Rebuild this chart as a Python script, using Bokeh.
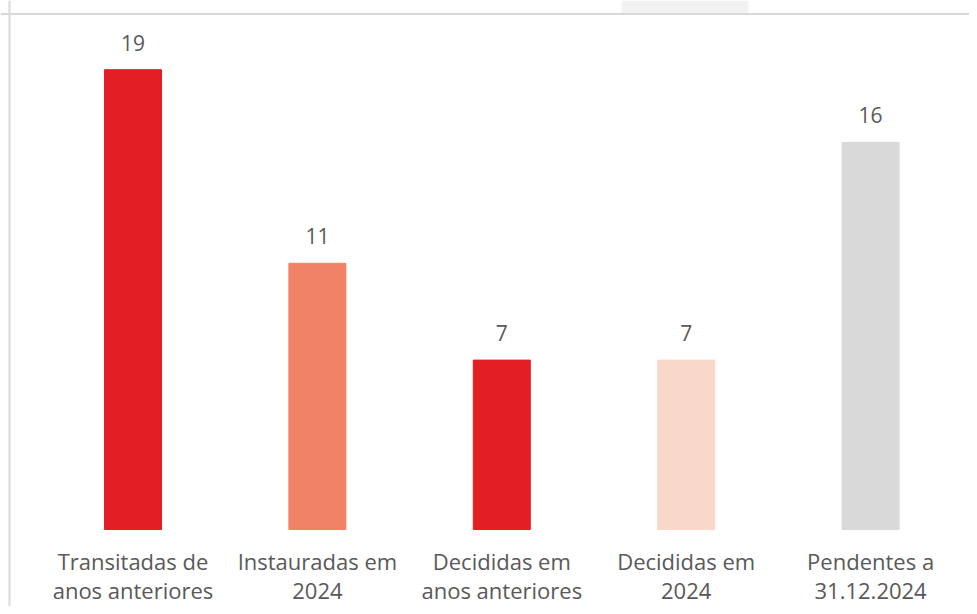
from bokeh.plotting import figure
from bokeh.models import ColumnDataSource, Range1d, Span, BoxAnnotation
from bokeh.core.properties import value
from bokeh.embed import file_html
from bokeh.resources import INLINE

categories = ["Transitadas de\nanos anteriores", "Instauradas em\n2024",
              "Decididas em\nanos anteriores", "Decididas em\n2024", "Pendentes a\n31.12.2024"]
values = [19, 11, 7, 7, 16]
colors = ["#E31E24", "#F08366", "#E31E24", "#F9D7C9", "#D9D9D9"]
labels = [str(v) for v in values]

W, H = 969, 606
PX_X = 184.4   # pixels per category step
PX_Y = 24.2    # pixels per unit
first_center_px = 132.5
baseline_px = 529

x0 = -first_center_px / PX_X
x1 = x0 + W / PX_X
y0 = -(H - baseline_px) / PX_Y
y1 = baseline_px / PX_Y

idx = list(range(len(values)))
src = ColumnDataSource(dict(x=idx, top=values, color=colors, label=labels, cat=categories))

p = figure(width=W, height=H, output_backend="svg", toolbar_location=None,
           x_range=Range1d(x0, x1), y_range=Range1d(y0, y1),
           x_axis_type=None, y_axis_type=None, min_border=0,
           background_fill_color="white", border_fill_color="white")
p.grid.visible = False
p.outline_line_color = None

p.vbar(x="x", top="top", bottom=0, width=57 / PX_X, color="color", source=src)

p.text(x="x", y="top", text="label", source=src, text_align="center",
       text_baseline="middle", y_offset=-27, text_font=value("Open Sans"),
       text_font_size="21px", text_color="#595959")

p.text(x="x", y=0, text="cat", source=src, text_align="center",
       text_baseline="middle", y_offset=46, text_font=value("Open Sans"),
       text_font_size="22px", text_color="#595959", text_line_height=0.98)

# frame border lines (left and top) and small tab at top
p.add_layout(Span(location=x0 + 9 / PX_X, dimension="height", line_color="#D9D9D9", line_width=2))
p.add_layout(Span(location=y1 - 13.5 / PX_Y, dimension="width", line_color="#D9D9D9", line_width=2))
p.add_layout(BoxAnnotation(left=x0 + 621 / PX_X, right=x0 + 748 / PX_X,
                           bottom=y1 - 12.5 / PX_Y, top=y1, fill_color="#F2F2F2",
                           fill_alpha=1, line_color=None))

open("out.html", "w").write(file_html(p, INLINE))
